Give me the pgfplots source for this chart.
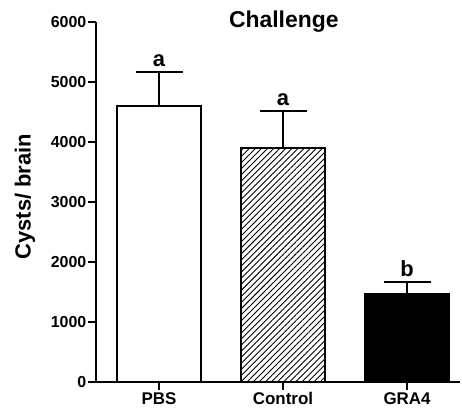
\documentclass[border=0pt]{standalone}
\usepackage{pgfplots}
\pgfplotsset{compat=1.18}
\usepackage{fontspec}
\setmainfont{Liberation Sans}
\usetikzlibrary{patterns.meta}
\begin{document}
\begin{tikzpicture}
\begin{axis}[
  at={(0,0)}, anchor=south west,
  scale only axis, width=364bp, height=360bp,
  xmin=-0.508, xmax=2.427, ymin=0, ymax=6000,
  axis lines*=left,
  axis line style={line width=2bp, black},
  xtick={0,1,2}, xticklabels={PBS,Control,GRA4},
  ytick={0,1000,2000,3000,4000,5000,6000},
  tick align=outside, major tick length=8bp,
  every tick/.style={black, line width=1.6bp},
  /pgf/number format/assume math mode=true,
  /pgf/number format/1000 sep={},
  yticklabel style={font=\bfseries\fontsize{16}{16}\selectfont, inner sep=1.5bp},
  xticklabel style={font=\bfseries\fontsize{17}{17}\selectfont, inner sep=2bp},
  ylabel={Cysts/ brain},
  every axis y label/.style={at={(axis description cs:-0.195,0.515)}, rotate=90, anchor=center, font=\bfseries\fontsize{22}{22}\selectfont},
  title={Challenge},
  title style={at={(axis description cs:0.516,0.967)}, anchor=base, font=\bfseries\fontsize{23}{23}\selectfont},
  clip=false,
]
\addplot[ybar, bar width=84bp, bar shift=0pt, draw=black, line width=2bp, fill=white,
  error bars/.cd, y dir=plus, y explicit,
  error bar style={line width=2bp, black},
  error mark options={rotate=90, mark size=23.5bp, line width=2bp, black}]
  coordinates {(0,4600) +- (0,567)};
\addplot[ybar, bar width=84bp, bar shift=0pt, draw=black, line width=2bp,
  pattern={Lines[angle=45, distance=4.3bp, line width=0.9bp]},
  error bars/.cd, y dir=plus, y explicit,
  error bar style={line width=2bp, black},
  error mark options={rotate=90, mark size=23.5bp, line width=2bp, black}]
  coordinates {(1,3900) +- (0,617)};
\addplot[ybar, bar width=84bp, bar shift=0pt, draw=black, line width=2bp, fill=black,
  error bars/.cd, y dir=plus, y explicit,
  error bar style={line width=2bp, black},
  error mark options={rotate=90, mark size=23.5bp, line width=2bp, black}]
  coordinates {(2,1467) +- (0,200)};
\addplot[draw=none, mark=none, nodes near coords, point meta=explicit symbolic,
  nodes near coords style={anchor=base, yshift=5.5bp, font=\bfseries\fontsize{22}{22}\selectfont}]
  coordinates {(0,5167)[a] (1,4517)[a] (2,1667)[b]};
\end{axis}
\pgfresetboundingbox
\path[use as bounding box] (-96bp,-28bp) rectangle (366bp,382bp);
\end{tikzpicture}
\end{document}
